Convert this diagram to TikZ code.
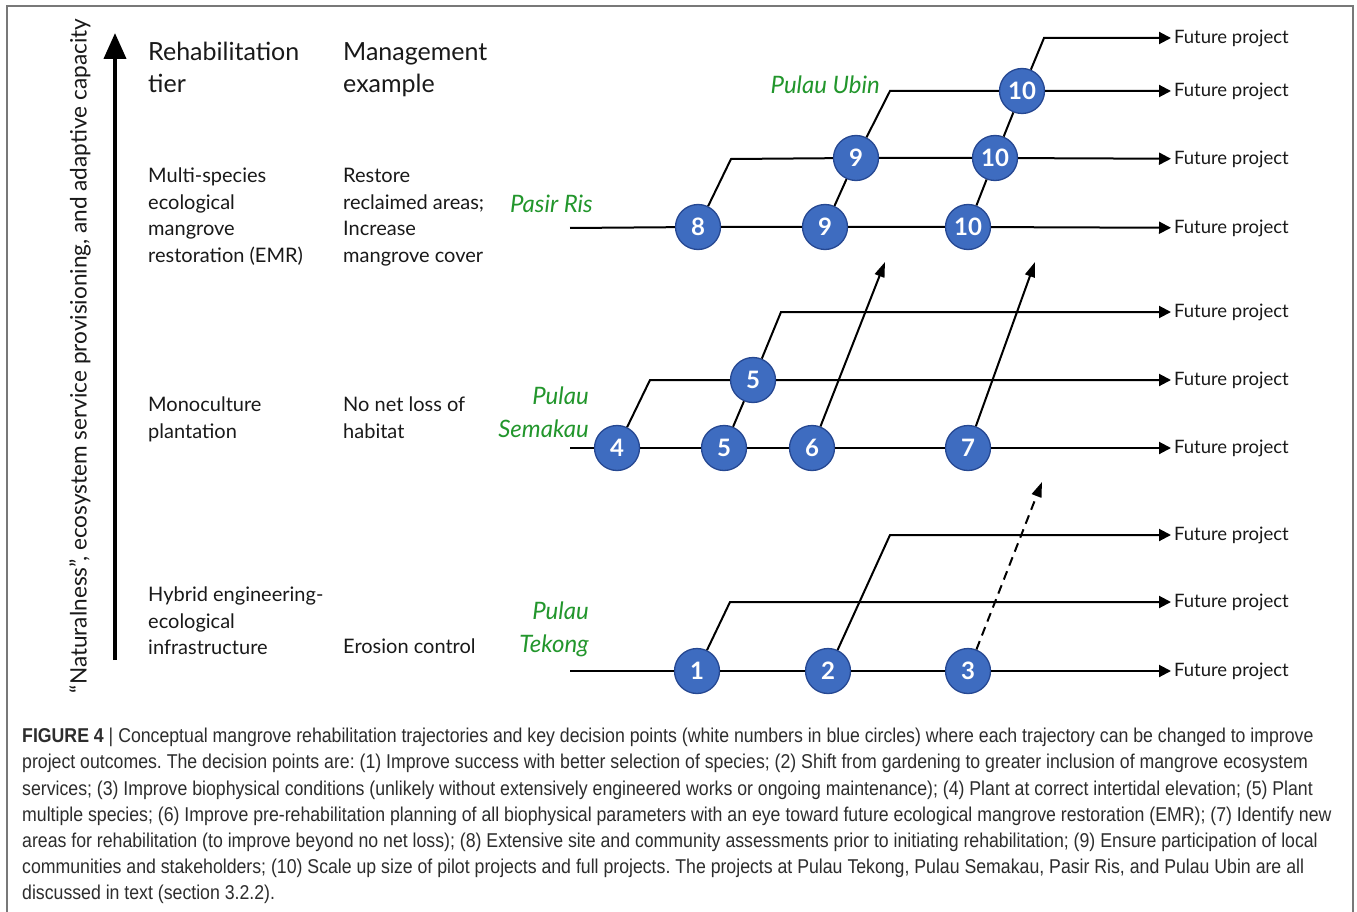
\documentclass[tikz,border=0pt]{standalone}
\usepackage{fontspec}
\setmainfont{Lato}
\newfontfamily\capfont[FakeStretch=0.885]{Liberation Sans}
\usetikzlibrary{arrows.meta}
\definecolor{dpblue}{RGB}{62,108,192}
\definecolor{dpedge}{RGB}{38,72,146}
\definecolor{sitegreen}{RGB}{34,150,44}
\definecolor{framegray}{RGB}{120,120,120}
\definecolor{ink}{RGB}{25,25,25}
\definecolor{capink}{RGB}{45,45,45}
\tikzset{
  dp/.style={circle, fill=dpblue, draw=dpedge, line width=1.3pt, minimum size=45pt, inner sep=0pt,
    text=white, font=\fontsize{24}{24}\selectfont\bfseries},
  fut/.style={anchor=west, inner sep=0pt, outer sep=3pt, text=ink, font=\fontsize{18.5}{18}\selectfont},
  ln/.style={line width=2pt, draw=black},
  futarrow/.style={ln, -{Triangle[length=12pt,width=12pt]}},
  diagarrow/.style={ln, -{Triangle[length=15pt,width=10pt]}},
  site/.style={text=sitegreen, font=\fontsize{24}{33}\selectfont\itshape, align=right, inner sep=0pt, anchor=north east},
  head/.style={anchor=north west, align=left, inner sep=0pt, text=ink, font=\fontsize{25}{32}\selectfont},
  body/.style={anchor=north west, align=left, inner sep=0pt, text=ink, font=\fontsize{20}{26.5}\selectfont},
}
\begin{document}
\begin{tikzpicture}[x=1pt,y=-1pt]
\useasboundingbox (0,0) rectangle (1357,912);
\fill[white] (0,0) rectangle (1357,912);
% frame
\coordinate (fr1) at (7,915);
\coordinate (fr2) at (7,6);
\coordinate (fr3) at (1353,6);
\coordinate (fr4) at (1353,915);
\draw[framegray, line width=1.5pt] (fr1) -- (fr2) -- (fr3) -- (fr4);

% axis
\coordinate (axb) at (115,660);
\coordinate (axt) at (115,33);
\draw[line width=4pt, -{Triangle[length=26pt,width=22pt]}] (axb) -- (axt);
\node[rotate=90, inner sep=0pt, text=ink, font=\fontsize{22.6}{22}\selectfont] (axlab) at (80,356)
  {“Naturalness”, ecosystem service provisioning, and adaptive capacity};

% column texts
\node[head] (h1) at (148,42) {Rehabilitation\\tier};
\node[head] (h2) at (343,42) {Management\\example};
\node[body] (t1) at (148,168) {Multi-species\\ecological\\mangrove\\restoration (EMR)};
\node[body] (m1) at (343,168) {Restore\\reclaimed areas;\\Increase\\mangrove cover};
\node[body] (t2) at (148,397) {Monoculture\\plantation};
\node[body] (m2) at (343,397) {No net loss of\\habitat};
\node[body] (t3) at (148,587) {Hybrid engineering-\\ecological\\infrastructure};
\node[body] (m3) at (343,639) {Erosion control};

% site labels
\node[site] (sPR) at (593,195) {Pasir Ris};
\node[site] (sPU) at (880,76) {Pulau Ubin};
\node[site] (sPS) at (589,387) {Pulau\\Semakau};
\node[site] (sPT) at (589,602) {Pulau\\Tekong};

% future project labels
\foreach \n/\y in {a/38,b/91,c/159,d/228,e/312,f/380,g/448,h/535,i/602,j/671}{
  \node[fut] (f\n) at (1171,\y) {Future project};
}

% decision points
\node[dp] (n10t) at (1022,91) {10};
\node[dp] (n9u)  at (856,158) {9};
\node[dp] (n10m) at (995,158) {10};
\node[dp] (n8)   at (698,227) {8};
\node[dp] (n9l)  at (825,227) {9};
\node[dp] (n10l) at (968,227) {10};
\node[dp] (n5u)  at (753,380) {5};
\node[dp] (n4)   at (617,448) {4};
\node[dp] (n5l)  at (724,448) {5};
\node[dp] (n6)   at (812,448) {6};
\node[dp] (n7)   at (968,448) {7};
\node[dp] (n1)   at (697,671) {1};
\node[dp] (n2)   at (828,671) {2};
\node[dp] (n3)   at (968,671) {3};

% bend coordinates
\coordinate (sP) at (570,228);
\coordinate (sS) at (570,448);
\coordinate (sT) at (570,671);
\coordinate (b8) at (731,159);
\coordinate (b9) at (890,91);
\coordinate (b10) at (1044,38);
\coordinate (b4) at (650,380);
\coordinate (b5) at (781,312);
\coordinate (b1) at (730,602);
\coordinate (b2) at (890,535);
\coordinate (t6) at (885,262);
\coordinate (t7) at (1035,262);
\coordinate (t3) at (1042,482);

% Pasir Ris / Pulau Ubin
\draw[futarrow] (sP) -- (n8) -- (n9l) -- (n10l) -- (fd);
\draw[futarrow] (n8) -- (b8) -- (n9u) -- (n10m) -- (fc);
\draw[ln] (n9l) -- (n9u);
\draw[futarrow] (n9u) -- (b9) -- (n10t) -- (fb);
\draw[ln] (n10l) -- (n10m);
\draw[ln] (n10m) -- (n10t);
\draw[futarrow] (n10t) -- (b10) -- (fa);

% Pulau Semakau
\draw[futarrow] (sS) -- (n4) -- (n5l) -- (n6) -- (n7) -- (fg);
\draw[futarrow] (n4) -- (b4) -- (n5u) -- (ff);
\draw[ln] (n5l) -- (n5u);
\draw[futarrow] (n5u) -- (b5) -- (fe);
\draw[diagarrow] (n6) -- (t6);
\draw[diagarrow] (n7) -- (t7);

% Pulau Tekong
\draw[futarrow] (sT) -- (n1) -- (n2) -- (n3) -- (fj);
\draw[futarrow] (n1) -- (b1) -- (fi);
\draw[futarrow] (n2) -- (b2) -- (fh);
\draw[diagarrow, dash pattern=on 9pt off 6pt] (n3) -- (t3);

% caption
\node[anchor=north west, inner sep=0pt, align=left, text=capink,
      font=\capfont\fontsize{20}{26.2}\selectfont\frenchspacing] (cap) at (22,728)
{\textbf{FIGURE 4} | Conceptual mangrove rehabilitation trajectories and key decision points (white numbers in blue circles) where each trajectory can be changed to improve\\
project outcomes. The decision points are: (1) Improve success with better selection of species; (2) Shift from gardening to greater inclusion of mangrove ecosystem\\
services; (3) Improve biophysical conditions (unlikely without extensively engineered works or ongoing maintenance); (4) Plant at correct intertidal elevation; (5) Plant\\
multiple species; (6) Improve pre-rehabilitation planning of all biophysical parameters with an eye toward future ecological mangrove restoration (EMR); (7) Identify new\\
areas for rehabilitation (to improve beyond no net loss); (8) Extensive site and community assessments prior to initiating rehabilitation; (9) Ensure participation of local\\
communities and stakeholders; (10) Scale up size of pilot projects and full projects. The projects at Pulau Tekong, Pulau Semakau, Pasir Ris, and Pulau Ubin are all\\
discussed in text (section 3.2.2).};
\end{tikzpicture}
\end{document}
